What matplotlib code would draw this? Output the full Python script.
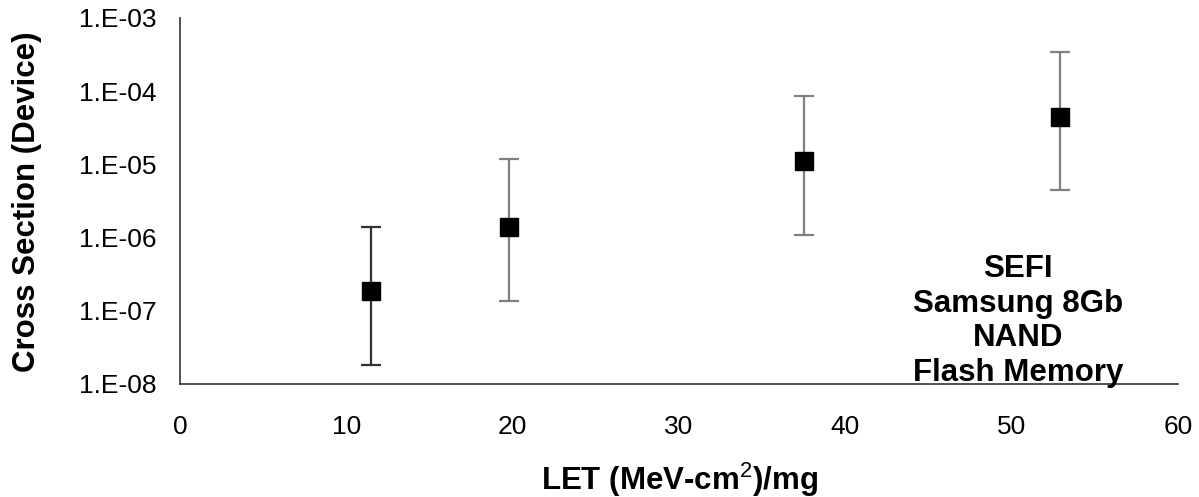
import math
import matplotlib
matplotlib.use("Agg")
import matplotlib.pyplot as plt
from matplotlib.ticker import FixedLocator, FuncFormatter

# LET values and measured device cross sections
let = [11.5, 19.8, 37.5, 52.9]
xsec = [1.85e-7, 1.4e-6, 1.12e-5, 4.5e-5]
err_low = [1.8e-8, 1.36e-7, 1.1e-6, 4.5e-6]
err_high = [1.4e-6, 1.2e-5, 8.7e-5, 3.4e-4]
bar_colors = ["#333333", "#7f7f7f", "#7f7f7f", "#7f7f7f"]

x_ticks = [0, 10, 20, 30, 40, 50, 60]
y_ticks = [1e-8, 1e-7, 1e-6, 1e-5, 1e-4, 1e-3]

plt.rcParams['font.family'] = ['Liberation Sans', 'DejaVu Sans']
plt.rcParams['mathtext.fontset'] = 'custom'
plt.rcParams['mathtext.rm'] = 'Liberation Sans'
plt.rcParams['mathtext.bf'] = 'Liberation Sans:bold'

fig = plt.figure(figsize=(11.99, 4.97), dpi=100)
ax = fig.add_axes([0.150, 0.2274, 0.8325, 0.7364])

for x, y, lo, hi, c in zip(let, xsec, err_low, err_high, bar_colors):
    ax.errorbar([x], [y], yerr=[[y - lo], [hi - y]], fmt='none',
                ecolor=c, elinewidth=1.6, capsize=7, capthick=1.6, zorder=2)
ax.plot(let, xsec, 's', color='black', markersize=13.5, linestyle='none', zorder=3)

ax.set_yscale('log')
ax.set_xlim(0, 60)
ax.set_ylim(1e-8, 1e-3)
ax.xaxis.set_major_locator(FixedLocator(x_ticks))
ax.yaxis.set_major_locator(FixedLocator(y_ticks))
ax.yaxis.set_minor_locator(FixedLocator([]))
ax.yaxis.set_major_formatter(FuncFormatter(lambda v, p: "1.E-%02d" % round(-math.log10(v))))
ax.tick_params(axis='both', length=0, labelsize=19)
ax.tick_params(axis='x', pad=22)
ax.tick_params(axis='y', pad=17)

for s in ['top', 'right']:
    ax.spines[s].set_visible(False)
for s in ['left', 'bottom']:
    ax.spines[s].set_color('#333333')
    ax.spines[s].set_linewidth(1.2)

ax.set_xlabel("LET (MeV-cm$^{2}$)/mg", fontsize=22.5, fontweight='bold', va='top')
ax.xaxis.set_label_coords(0.501, -0.21)
ax.set_ylabel("Cross Section (Device)", fontsize=22.5, fontweight='bold')
ax.yaxis.set_label_coords(-0.138, 0.497)

ax.text(0.84, 0.172, "SEFI\nSamsung 8Gb\nNAND\nFlash Memory", transform=ax.transAxes,
        ha='center', va='center', multialignment='center', fontsize=22.5,
        fontweight='bold', linespacing=1.2, zorder=4)

fig.savefig("out.png", dpi=100)
